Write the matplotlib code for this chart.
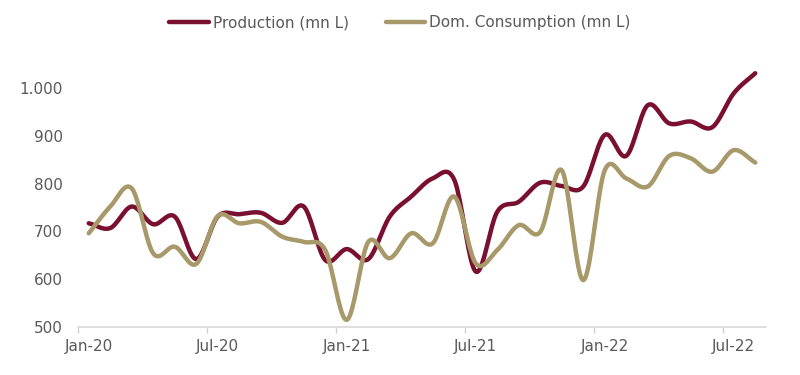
import numpy as np
import matplotlib
matplotlib.use("Agg")
import matplotlib.pyplot as plt
from matplotlib.ticker import FuncFormatter

months = ["Jan-20","Feb-20","Mar-20","Apr-20","May-20","Jun-20","Jul-20","Aug-20","Sep-20","Oct-20","Nov-20","Dec-20",
          "Jan-21","Feb-21","Mar-21","Apr-21","May-21","Jun-21","Jul-21","Aug-21","Sep-21","Oct-21","Nov-21","Dec-21",
          "Jan-22","Feb-22","Mar-22","Apr-22","May-22","Jun-22","Jul-22","Aug-22"]
production = [717, 707, 752, 715, 731, 642, 731, 736, 739, 718, 752, 640,
              663, 642, 731, 773, 811, 808, 616, 741, 762, 802,
              795, 794, 902, 858, 964, 926, 930, 918, 989, 1031]
consumption = [696, 752, 790, 654, 668, 632, 732, 717, 720, 689, 678, 661,
               515, 678, 644, 696, 675, 773, 633, 661, 713, 699,
               828, 598, 828, 811, 794, 858, 853, 825, 870, 844]
yticks = [500, 600, 700, 800, 900, 1000]

PROD_C = "#7a1030"
CONS_C = "#a8996a"
TXT_C = "#595959"

def smooth(xs, ys, n=20):
    # Catmull-Rom rendering between data points (Excel-like smoothed line)
    xs = np.asarray(xs, float); ys = np.asarray(ys, float)
    px = np.concatenate([[2*xs[0]-xs[1]], xs, [2*xs[-1]-xs[-2]]])
    py = np.concatenate([[2*ys[0]-ys[1]], ys, [2*ys[-1]-ys[-2]]])
    ox, oy = [], []
    t = np.linspace(0, 1, n, endpoint=False)
    for i in range(1, len(px)-2):
        for P, out in ((px, ox), (py, oy)):
            p0, p1, p2, p3 = P[i-1], P[i], P[i+1], P[i+2]
            out.extend(0.5*((2*p1) + (-p0+p2)*t + (2*p0-5*p1+4*p2-p3)*t**2 + (-p0+3*p1-3*p2+p3)*t**3))
    ox.append(xs[-1]); oy.append(ys[-1])
    return np.array(ox), np.array(oy)

plt.rcParams['font.family'] = ['DejaVu Sans']

fig = plt.figure(figsize=(8, 3.75), dpi=100)
ax = fig.add_axes([0.0975, 0.128, 0.86, 0.701])

x = np.arange(len(months))
sx, sy = smooth(x, production)
ax.plot(sx, sy, color=PROD_C, lw=3.2, solid_capstyle='round', label="Production (mn L)", clip_on=False)
sx, sy = smooth(x, consumption)
ax.plot(sx, sy, color=CONS_C, lw=3.2, solid_capstyle='round', label="Dom. Consumption (mn L)", clip_on=False)

ax.set_xlim(-0.5, len(months)-0.5)
ax.set_ylim(500, 1050)
ax.set_yticks(yticks)
ax.yaxis.set_major_formatter(FuncFormatter(lambda v, p: f"{int(v):,}".replace(",", ".")))
ax.tick_params(axis='y', length=0, pad=11, labelsize=11, labelcolor=TXT_C)

ax.set_xticks(np.arange(-0.5, len(months), 6))
ax.set_xticklabels([])
ax.set_xticks(np.arange(0, len(months), 6), minor=True)
ax.set_xticklabels([months[i] for i in range(0, len(months), 6)], minor=True)
ax.tick_params(axis='x', which='major', length=4, width=1, color="#d0d0d0")
ax.tick_params(axis='x', which='minor', length=0, pad=9, labelsize=11, labelcolor=TXT_C)

for s in ['top', 'right', 'left']:
    ax.spines[s].set_visible(False)
ax.spines['bottom'].set_color("#d9d9d9")
ax.spines['bottom'].set_linewidth(1.2)

fig.legend(loc='center', bbox_to_anchor=(0.5, 0.94), ncol=2, frameon=False,
           fontsize=11, labelcolor=TXT_C, handlelength=2.6, handletextpad=0.25,
           columnspacing=2.4)

fig.savefig("out.png", dpi=100)
